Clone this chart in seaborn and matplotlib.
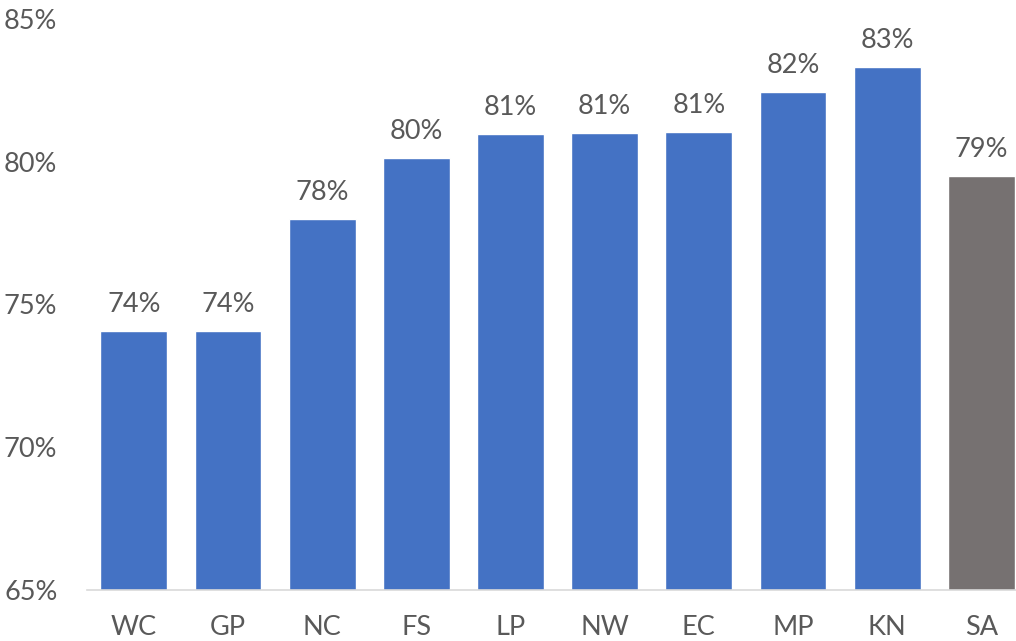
import pandas as pd
import matplotlib
matplotlib.use("Agg")
import matplotlib.pyplot as plt
from matplotlib.ticker import FuncFormatter
import seaborn as sns

# data (percent)
regions = ["WC", "GP", "NC", "FS", "LP", "NW", "EC", "MP", "KN", "SA"]
shares = [74.05, 74.05, 77.98, 80.12, 80.96, 81.0, 81.03, 82.44, 83.32, 79.49]
yticks = [65, 70, 75, 80, 85]

blue = "#4472C4"
grey = "#767171"
text_col = "#595959"

sns.set_style("white")
plt.rcParams["font.family"] = ["Lato", "DejaVu Sans"]

df = pd.DataFrame({"region": regions, "share": shares})
palette = {r: (grey if r == "SA" else blue) for r in regions}

fig = plt.figure(figsize=(10.16, 6.41), dpi=100)
ax = fig.add_axes([0.0853, 0.0803, 0.927, 0.890])

sns.barplot(data=df, x="region", y="share", hue="region", palette=palette,
            order=regions, legend=False, width=0.71, saturation=1, ax=ax)

ax.set_ylim(65, 85)
ax.set_yticks(yticks)
ax.yaxis.set_major_formatter(FuncFormatter(lambda v, p: f"{v:.0f}%"))
ax.set_xlabel("")
ax.set_ylabel("")

for side in ["top", "right", "left"]:
    ax.spines[side].set_visible(False)
ax.spines["bottom"].set_color("#D9D9D9")
ax.spines["bottom"].set_linewidth(1.2)

ax.tick_params(axis="y", length=0, pad=21, labelsize=19.5, labelcolor=text_col)
ax.tick_params(axis="x", length=0, pad=18, labelsize=19.5, labelcolor=text_col)

# value labels above bars
for bar, val in zip(ax.patches, shares):
    ax.annotate(f"{val:.0f}%", (bar.get_x() + bar.get_width() / 2, val),
                xytext=(0, 10), textcoords="offset points",
                ha="center", va="bottom", fontsize=19.5, color=text_col)

fig.savefig("out.png", dpi=100)
